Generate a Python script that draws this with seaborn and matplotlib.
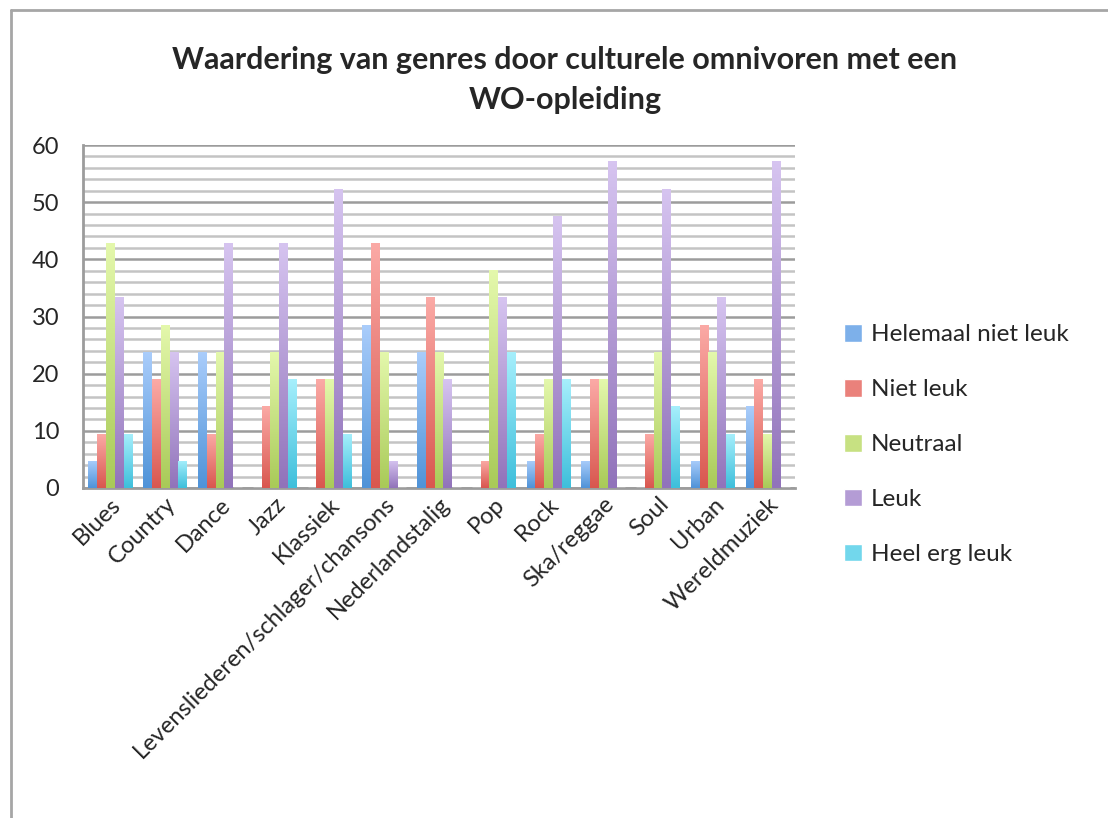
import numpy as np
import pandas as pd
import seaborn as sns
import matplotlib.pyplot as plt
from matplotlib.lines import Line2D
from matplotlib.colors import LinearSegmentedColormap

genres = ['Blues', 'Country', 'Dance', 'Jazz', 'Klassiek',
          'Levensliederen/schlager/chansons', 'Nederlandstalig', 'Pop', 'Rock',
          'Ska/reggae', 'Soul', 'Urban', 'Wereldmuziek']
helemaal_niet_leuk = [4.76, 23.81, 23.81, 0, 0, 28.57, 23.81, 0, 4.76, 4.76, 0, 4.76, 14.29]
niet_leuk = [9.52, 19.05, 9.52, 14.29, 19.05, 42.86, 33.33, 4.76, 9.52, 19.05, 9.52, 28.57, 19.05]
neutraal = [42.86, 28.57, 23.81, 23.81, 19.05, 23.81, 23.81, 38.10, 19.05, 19.05, 23.81, 23.81, 9.52]
leuk = [33.33, 23.81, 42.86, 42.86, 52.38, 4.76, 19.05, 33.33, 47.62, 57.14, 52.38, 33.33, 57.14]
heel_erg_leuk = [9.52, 4.76, 0, 19.05, 9.52, 0, 0, 23.81, 19.05, 0, 14.29, 9.52, 0]

series = ['Helemaal niet leuk', 'Niet leuk', 'Neutraal', 'Leuk', 'Heel erg leuk']
# (top, bottom) colours of the gradient bars
grad = [('#aacdfb', '#4f93d8'), ('#fbaaa6', '#d9574f'), ('#e4f8ac', '#a9ca58'),
        ('#d6c4f0', '#9173ba'), ('#a6effc', '#3ebfdb')]

df = pd.DataFrame({'genre': genres, series[0]: helemaal_niet_leuk, series[1]: niet_leuk,
                   series[2]: neutraal, series[3]: leuk, series[4]: heel_erg_leuk})
long = df.melt(id_vars='genre', var_name='waardering', value_name='pct')

sns.set_style('white')
plt.rcParams['font.family'] = ['Lato', 'DejaVu Sans']

fig = plt.figure(figsize=(11.08, 8.18), dpi=100)
ax = fig.add_axes([83 / 1108, 1 - 488 / 818, 712 / 1108, 343 / 818])

mid = [LinearSegmentedColormap.from_list('m', [b, t])(0.5) for t, b in grad]
sns.barplot(data=long, x='genre', y='pct', hue='waardering', hue_order=series,
            palette=mid, width=0.8, gap=0, ax=ax, legend=False, saturation=1, zorder=3)

# gradient fill for every bar
for i, cont in enumerate(ax.containers):
    cmap = LinearSegmentedColormap.from_list('g%d' % i, [grad[i][1], grad[i][0]])
    for p in cont.patches:
        h = p.get_height()
        if h <= 0:
            continue
        x0 = p.get_x()
        w = p.get_width()
        img = ax.imshow(np.linspace(0, 1, 100).reshape(-1, 1), cmap=cmap, origin='lower',
                        extent=[x0, x0 + w, 0, h], aspect='auto', zorder=3)
        img.set_clip_path(p)
        p.set_facecolor('none')
        p.set_edgecolor('none')

ax.set_xlim(-0.5, len(genres) - 0.5)
ax.set_ylim(0, 60)
ax.set_aspect('auto')

ax.set_yticks(range(0, 61, 10))
ax.set_yticks(range(0, 61, 2), minor=True)
ax.grid(axis='y', which='minor', color='#c4c4c4', linewidth=1.8, zorder=0)
ax.grid(axis='y', which='major', color='#9c9c9c', linewidth=1.8, zorder=0)
ax.grid(axis='x', visible=False)
ax.tick_params(axis='y', which='both', length=0, labelsize=17, pad=17)
ax.tick_params(axis='x', length=0, labelsize=17, pad=4)
ax.set_xticks(range(len(genres)))
ax.set_xticklabels(genres, rotation=45, ha='right', rotation_mode='anchor')
ax.set_xlabel('')
ax.set_ylabel('')

for s in ['top', 'right']:
    ax.spines[s].set_visible(False)
for s in ['left', 'bottom']:
    ax.spines[s].set_color('#9c9c9c')
    ax.spines[s].set_linewidth(2)

fig.suptitle('Waardering van genres door culturele omnivoren met een\nWO-opleiding',
             x=565 / 1108, y=1 - 46 / 818, fontsize=22, fontweight='bold', linespacing=1.5)

handles = [plt.Rectangle((0, 0), 1, 1, facecolor=c) for c in mid]
fig.legend(handles, series, loc='upper left', bbox_to_anchor=(822 / 1108, 1 - 302 / 818),
           frameon=False, fontsize=17.5, handlelength=0.75, handleheight=0.75,
           handletextpad=0.35, labelspacing=1.38)

fig.add_artist(Line2D([11 / 1108, 11 / 1108], [0, 1 - 10 / 818], color='#a6a6a6', linewidth=2))
fig.add_artist(Line2D([11 / 1108, 1], [1 - 10 / 818, 1 - 10 / 818], color='#a6a6a6', linewidth=2))

fig.savefig('out.png', dpi=100)
